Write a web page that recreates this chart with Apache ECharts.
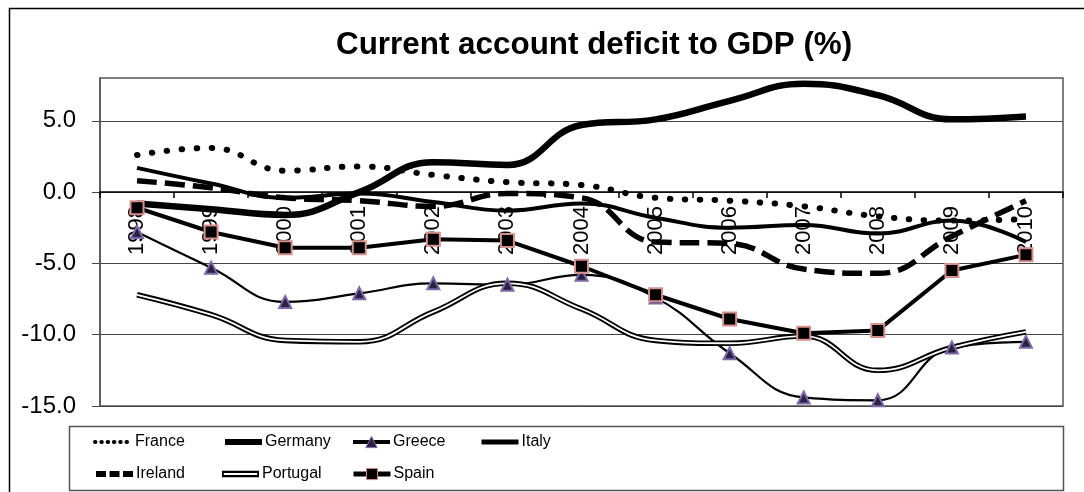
<!DOCTYPE html>
<html>
<head>
<meta charset="utf-8">
<script src="https://cdn.jsdelivr.net/npm/echarts@6/dist/echarts.min.js"></script>
<style>
  html, body { margin: 0; padding: 0; background: #fff; }
  #chart { width: 1084px; height: 492px; }
</style>
</head>
<body>
<div id="chart"></div>
<script>
// Current account balance as % of GDP, 1998-2010
const years = ['1998', '1999', '2000', '2001', '2002', '2003', '2004', '2005', '2006', '2007', '2008', '2009', '2010'];
const france   = [2.6, 3.1, 1.5, 1.8, 1.2, 0.7, 0.5, -0.4, -0.6, -1.0, -1.7, -2.0, -1.9];
const germany  = [-0.8, -1.2, -1.6, 0.0, 2.1, 1.9, 4.7, 5.1, 6.4, 7.6, 6.8, 5.1, 5.3];
const greece   = [-2.8, -5.3, -7.7, -7.1, -6.4, -6.5, -5.8, -7.4, -11.3, -14.4, -14.6, -10.9, -10.5];
const italy    = [1.7, 0.6, -0.4, -0.1, -0.7, -1.3, -0.8, -1.8, -2.5, -2.3, -2.9, -2.0, -3.5];
const ireland  = [0.8, 0.3, -0.4, -0.6, -1.0, -0.1, -0.4, -3.5, -3.6, -5.4, -5.7, -3.1, -0.6];
const portugal = [-7.2, -8.6, -10.4, -10.5, -8.4, -6.4, -8.2, -10.4, -10.6, -10.1, -12.5, -10.9, -9.8];
const spain    = [-1.1, -2.8, -3.9, -3.9, -3.3, -3.4, -5.2, -7.2, -8.9, -9.9, -9.7, -5.5, -4.4];
const yTicks = [-15, -10, -5, 0, 5];
const yMin = -15, yMax = 8, yStep = 5;

const baseFont = "'Liberation Sans', Arial, sans-serif";

// plot box in pixels
const gridTop = 78, gridBottom = 86, chartH = 492;
const plotH = chartH - gridTop - gridBottom;
// category axis sits on the zero line
const zeroOffset = -plotH * (0 - yMin) / (yMax - yMin);

function line(name, data, lineStyle, extra) {
  return Object.assign({
    name: name,
    type: 'line',
    data: data,
    smooth: 0.45,
    showSymbol: false,
    symbol: 'none',
    color: '#000',
    lineStyle: Object.assign({ color: '#000' }, lineStyle),
    emphasis: { disabled: true },
    animation: false
  }, extra || {});
}

const series = [
  line('France', france, { width: 6, type: [0.5, 14.5], cap: 'round' }),
  line('Germany', germany, { width: 6.5 }),
  line('Greece', greece, { width: 2.2 }, {
    symbol: 'triangle', showSymbol: true, symbolSize: 12,
    itemStyle: { color: '#2b2140', borderColor: '#7d68a8', borderWidth: 2 }
  }),
  line('Italy', italy, { width: 4 }),
  line('Ireland', ireland, { width: 5.5, type: [20, 8] }),
  line('Portugal', portugal, { width: 5.5 }),
  line('Portugal inner', portugal, { width: 1.8, color: '#fff' }, { color: '#fff' }),
  line('Spain', spain, { width: 4 }, {
    smooth: false,
    symbol: 'rect', showSymbol: true, symbolSize: 13,
    itemStyle: { color: '#000', borderColor: '#d4918d', borderWidth: 2 }
  })
];

// one legend block per entry so the columns line up
const colX = [93, 222, 351, 479];
const rowY = [441, 473];
const hidden = { opacity: 0, borderWidth: 0 };
const legendEntries = [
  { name: 'France',   col: 0, row: 0, lineStyle: { width: 4, type: [0.5, 5.8], cap: 'round' }, itemStyle: hidden },
  { name: 'Germany',  col: 1, row: 0, lineStyle: { width: 6 }, itemStyle: hidden },
  { name: 'Greece',   col: 2, row: 0, lineStyle: { width: 4 }, itemStyle: { borderWidth: 1 } },
  { name: 'Italy',    col: 3, row: 0, lineStyle: { width: 5 }, itemStyle: hidden },
  { name: 'Ireland',  col: 0, row: 1, lineStyle: { width: 6, type: [10, 3.5] }, itemStyle: hidden },
  { name: 'Portugal', col: 1, row: 1, icon: 'path://M0,0H40V7H0Z M2,2.5V4.5H38V2.5Z', itemStyle: { color: '#000', borderWidth: 0 } },
  { name: 'Spain',    col: 2, row: 1, lineStyle: { width: 5 }, itemStyle: { borderWidth: 1 } }
];
const legends = legendEntries.map(function (e) {
  const item = { name: e.name };
  if (e.icon) item.icon = e.icon;
  if (e.lineStyle) item.lineStyle = e.lineStyle;
  if (e.itemStyle) item.itemStyle = e.itemStyle;
  return {
    left: colX[e.col],
    top: rowY[e.row] - 7,
    padding: 0,
    itemWidth: 37,
    itemHeight: 14,
    itemGap: 0,
    selectedMode: false,
    symbolKeepAspect: true,
    textStyle: { fontFamily: baseFont, fontSize: 16, color: '#000', padding: [0, 0, 0, -2] },
    data: [item]
  };
});

const option = {
  backgroundColor: '#fff',
  animation: false,
  title: {
    text: 'Current account deficit to GDP (%)',
    left: 336,
    top: 30,
    padding: 0,
    textStyle: { fontFamily: baseFont, fontWeight: 'bold', fontSize: 31.4, color: '#000' }
  },
  legend: legends,
  grid: {
    left: 100, right: 21, top: gridTop, bottom: gridBottom,
    show: true, borderColor: '#555', borderWidth: 1.5, backgroundColor: 'transparent'
  },
  xAxis: {
    type: 'category',
    data: years,
    boundaryGap: true,
    position: 'bottom',
    offset: zeroOffset,
    axisLine: { onZero: false, lineStyle: { color: '#000', width: 1.5 } },
    axisTick: { show: true, length: 6, inside: false, lineStyle: { color: '#000', width: 1.5 } },
    axisLabel: { rotate: 90, margin: 14, fontFamily: baseFont, fontSize: 22, color: '#000', interval: 0 },
    splitLine: { show: false }
  },
  yAxis: {
    type: 'value',
    min: yMin, max: yMax, interval: yStep,
    axisLine: { show: true, lineStyle: { color: '#555', width: 1.5 } },
    axisTick: { show: true, length: 8, inside: false, customValues: yTicks, lineStyle: { color: '#444', width: 1 } },
    axisLabel: {
      margin: 24, fontFamily: baseFont, fontSize: 24, color: '#000', customValues: yTicks,
      formatter: function (v) { return (v % yStep === 0) ? v.toFixed(1) : ''; }
    },
    splitLine: { show: true, lineStyle: { color: '#444', width: 1 } }
  },
  graphic: [
    { type: 'rect', left: 7, top: 6, z: -1, shape: { x: 0, y: 0, width: 1100, height: 520 },
      style: { fill: 'none', stroke: '#000', lineWidth: 1.5 } },
    { type: 'rect', left: 67, top: 424, shape: { x: 0, y: 0, width: 994, height: 64 },
      style: { fill: 'none', stroke: '#555', lineWidth: 1.5 } }
  ],
  series: series
};

const chart = echarts.init(document.getElementById('chart'), null, { renderer: 'canvas' });
chart.setOption(option);
</script>
</body>
</html>
